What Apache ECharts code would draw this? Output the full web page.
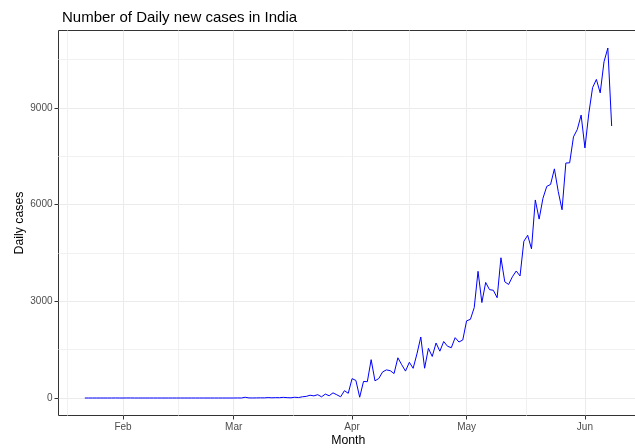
<!DOCTYPE html>
<html>
<head>
<meta charset="utf-8">
<script src="https://cdn.jsdelivr.net/npm/echarts@6/dist/echarts.min.js"></script>
<style>html,body{margin:0;padding:0;background:#fff}#c{width:635px;height:448px}</style>
</head>
<body>
<div id="c"></div>
<script>
// ---- Data (daily new cases, one value per day starting at startDate) ----
const startDate = '2020-01-22';
const janCases = [0, 0, 0, 0, 0, 0, 0, 0, 1, 0];
const febCases = [0, 1, 1, 0, 0, 0, 0, 0, 0, 0, 0, 0, 0, 0, 0, 0, 0, 0, 0, 0, 0, 0, 0, 0, 0, 0, 0, 0, 0];
const marCases = [0, 2, 0, 23, 2, 1, 3, 5, 4, 13, 6, 11, 9, 20, 11, 6, 23, 14, 38, 50, 86, 66, 103, 37, 121, 70, 160, 100, 37, 227, 146];
const aprCases = [601, 545, 24, 515, 506, 1190, 533, 605, 809, 873, 848, 759, 1248, 1034, 835, 1108, 922, 1370, 1893, 924, 1541, 1290, 1707, 1453, 1753, 1607, 1561, 1873, 1738, 1801];
const mayCases = [2394, 2442, 2806, 3932, 2963, 3587, 3364, 3344, 3113, 4353, 3607, 3524, 3763, 3942, 3787, 4864, 5050, 4630, 6147, 5553, 6198, 6568, 6629, 7113, 6414, 5843, 7293, 7300, 8105, 8336, 8782];
const junCases = [7761, 8821, 9633, 9889, 9471, 10438, 10864, 8442];

// ---- Axis breaks / labels ----
const xTickDates = ['2020-02-01', '2020-03-01', '2020-04-01', '2020-05-01', '2020-06-01'];
const xTickLabels = ['Feb', 'Mar', 'Apr', 'May', 'Jun'];
const xMinorDates = ['2020-01-17T12:00:00Z', '2020-02-15T12:00:00Z', '2020-03-16T12:00:00Z', '2020-04-16T00:00:00Z', '2020-05-16T12:00:00Z'];
const yTicks = [0, 3000, 6000, 9000];
const yTickLabels = ['0', '3000', '6000', '9000'];
const yMinor = [1500, 4500, 7500, 10500];

const titleText = 'Number of Daily new cases in India';
const xName = 'Month';
const yName = 'Daily cases';

// ---- Build ----
const DAY = 86400000;
const cases = [].concat(janCases, febCases, marCases, aprCases, mayCases, junCases);
const t0 = Date.parse(startDate + 'T00:00:00Z');
const points = cases.map((v, i) => [t0 + i * DAY, v]);
const tMin = t0, tMax = t0 + (cases.length - 1) * DAY;
const xPad = (tMax - tMin) * 0.05;
const yHi = Math.max.apply(null, cases), yLo = Math.min.apply(null, cases);
const yPad = (yHi - yLo) * 0.05;

const xTicks = xTickDates.map(d => Date.parse(d + 'T00:00:00Z'));
const xMinor = xMinorDates.map(d => Date.parse(d));
const xLabelOf = {}, yLabelOf = {};
xTicks.forEach((t, i) => { xLabelOf[t] = xTickLabels[i]; });
yTicks.forEach((t, i) => { yLabelOf[t] = yTickLabels[i]; });

const FONT = '"Liberation Sans", Arial, sans-serif';
const MAJOR = '#ebebeb', MINOR = '#f1f1f1';

const chart = echarts.init(document.getElementById('c'), null, {renderer: 'canvas'});
chart.setOption({
  animation: false,
  backgroundColor: '#ffffff',
  textStyle: {fontFamily: FONT},
  title: {
    text: titleText, left: 57, top: 5,
    textStyle: {fontSize: 15, fontWeight: 'normal', color: '#000000', fontFamily: FONT}
  },
  grid: {left: 58.5, right: -3, top: 30.5, bottom: 32.5, show: true, borderColor: '#333333', borderWidth: 1,
    backgroundColor: 'transparent', containLabel: false, outerBoundsMode: 'none'},
  xAxis: [{
    type: 'value', min: tMin - xPad, max: tMax + xPad, position: 'bottom',
    name: xName, nameLocation: 'middle', nameGap: 19.5, nameMoveOverlap: false,
    nameTextStyle: {fontSize: 12.3, color: '#000000', fontFamily: FONT},
    axisLine: {show: false, onZero: false},
    axisTick: {show: true, length: 4, lineStyle: {color: '#333333'}, customValues: xTicks},
    axisLabel: {show: true, customValues: xTicks, margin: 7, fontSize: 10, color: '#4d4d4d', fontFamily: FONT,
      formatter: v => xLabelOf[v] || ''},
    splitLine: {show: true, lineStyle: {color: MAJOR, width: 1}}
  }, {
    type: 'value', min: tMin - xPad, max: tMax + xPad, position: 'bottom',
    axisLine: {show: false, onZero: false}, axisLabel: {show: false},
    axisTick: {show: false, customValues: xMinor},
    splitLine: {show: true, lineStyle: {color: MINOR, width: 1}}
  }],
  yAxis: [{
    type: 'value', min: yLo - yPad, max: yHi + yPad, position: 'left',
    name: yName, nameLocation: 'middle', nameGap: 33, nameMoveOverlap: false,
    nameTextStyle: {fontSize: 12.3, color: '#000000', fontFamily: FONT},
    axisLine: {show: false, onZero: false},
    axisTick: {show: true, length: 4, lineStyle: {color: '#333333'}, customValues: yTicks},
    axisLabel: {show: true, customValues: yTicks, margin: 6, fontSize: 10, color: '#4d4d4d', fontFamily: FONT,
      formatter: v => (yLabelOf[v] !== undefined ? yLabelOf[v] : '')},
    splitLine: {show: true, lineStyle: {color: MAJOR, width: 1}}
  }, {
    type: 'value', min: yLo - yPad, max: yHi + yPad, position: 'left',
    axisLine: {show: false, onZero: false}, axisLabel: {show: false},
    axisTick: {show: false, customValues: yMinor},
    splitLine: {show: true, lineStyle: {color: MINOR, width: 1}}
  }],
  series: [{
    type: 'line', xAxisIndex: 0, yAxisIndex: 0,
    data: points, showSymbol: false, symbol: 'none',
    lineStyle: {color: '#0000ff', width: 1},
    z: 5
  }]
});
</script>
</body>
</html>
